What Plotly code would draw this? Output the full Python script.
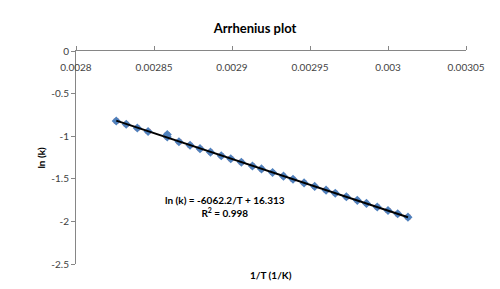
import numpy as np
import plotly.graph_objects as go

inv_T = [0.0028258, 0.0028322, 0.0028393, 0.0028462, 0.0028585, 0.0028585,
         0.0028660, 0.0028731, 0.0028795, 0.0028862, 0.0028931, 0.0028992,
         0.0029060, 0.0029131, 0.0029189, 0.0029260, 0.0029330, 0.0029391,
         0.0029462, 0.0029530, 0.0029603, 0.0029662, 0.0029733, 0.0029803,
         0.0029862, 0.0029931, 0.0030000, 0.0030062, 0.0030128]
ln_k = [-0.822, -0.860, -0.903, -0.944, -0.980, -1.010,
        -1.065, -1.107, -1.146, -1.187, -1.229, -1.264,
        -1.305, -1.349, -1.384, -1.426, -1.469, -1.506,
        -1.548, -1.589, -1.633, -1.669, -1.711, -1.753,
        -1.789, -1.831, -1.872, -1.911, -1.950]

x_ticks = [0.0028, 0.00285, 0.0029, 0.00295, 0.003, 0.00305]
x_tick_text = ["0.0028", "0.00285", "0.0029", "0.00295", "0.003", "0.00305"]
y_ticks = [0, -0.5, -1, -1.5, -2, -2.5]
y_tick_text = ["0", "-0.5", "-1", "-1.5", "-2", "-2.5"]

slope, intercept = np.polyfit(inv_T, ln_k, 1)
fit_x = [min(inv_T), max(inv_T)]
fit_y = [slope * v + intercept for v in fit_x]

FONT = "Lato, 'Open Sans', sans-serif"

fig = go.Figure()
fig.add_trace(go.Scatter(x=inv_T, y=ln_k, mode="markers",
                         marker=dict(symbol="square", size=5, color="#D9605C"),
                         showlegend=False, hoverinfo="skip"))
fig.add_trace(go.Scatter(x=inv_T, y=ln_k, mode="markers",
                         marker=dict(symbol="diamond", size=7, color="#4F81BD"),
                         showlegend=False))
fig.add_trace(go.Scatter(x=fit_x, y=fit_y, mode="lines",
                         line=dict(color="black", width=2), showlegend=False))

fig.update_layout(
    width=500, height=289,
    margin=dict(l=68, r=42, t=43, b=33),
    paper_bgcolor="white", plot_bgcolor="white",
    font=dict(family=FONT, size=10, color="#404040"),
    title=dict(text="<b>Arrhenius plot</b>", x=0.494, xanchor="center",
               y=0.93, yanchor="middle",
               font=dict(family=FONT, size=13, color="black")),
    xaxis=dict(range=[0.0028, 0.00305], side="top",
               tickvals=x_ticks, ticktext=x_tick_text,
               ticks="outside", ticklen=4, tickcolor="#868686",
               ticklabelposition="inside", ticklabelstandoff=12,
               ticklabeloverflow="allow",
               showline=True, linecolor="#868686", linewidth=1,
               showgrid=False, zeroline=False),
    yaxis=dict(range=[-2.5, 0],
               tickvals=y_ticks, ticktext=y_tick_text,
               ticks="outside", ticklen=4, tickcolor="#868686",
               ticklabeloverflow="allow",
               showline=True, linecolor="#868686", linewidth=1,
               showgrid=False, zeroline=False),
    annotations=[
        dict(text="<b>ln (k)</b>", xref="paper", yref="paper",
             x=-0.092, y=0.5, textangle=-90, showarrow=False,
             font=dict(family=FONT, size=10, color="black"),
             xanchor="center", yanchor="middle"),
        dict(text="<b>1/T (1/K)</b>", xref="paper", yref="paper",
             x=0.5, y=-0.05, showarrow=False,
             font=dict(family=FONT, size=10, color="black"),
             xanchor="center", yanchor="middle"),
        dict(text="<b>ln (k) = -6062.2/T + 16.313<br>R<sup>2</sup> = 0.998</b>",
             xref="paper", yref="paper", x=0.382, y=0.27, align="center",
             showarrow=False, font=dict(family=FONT, size=10, color="black"),
             xanchor="center", yanchor="middle"),
    ],
)

fig.write_html("out.html")
